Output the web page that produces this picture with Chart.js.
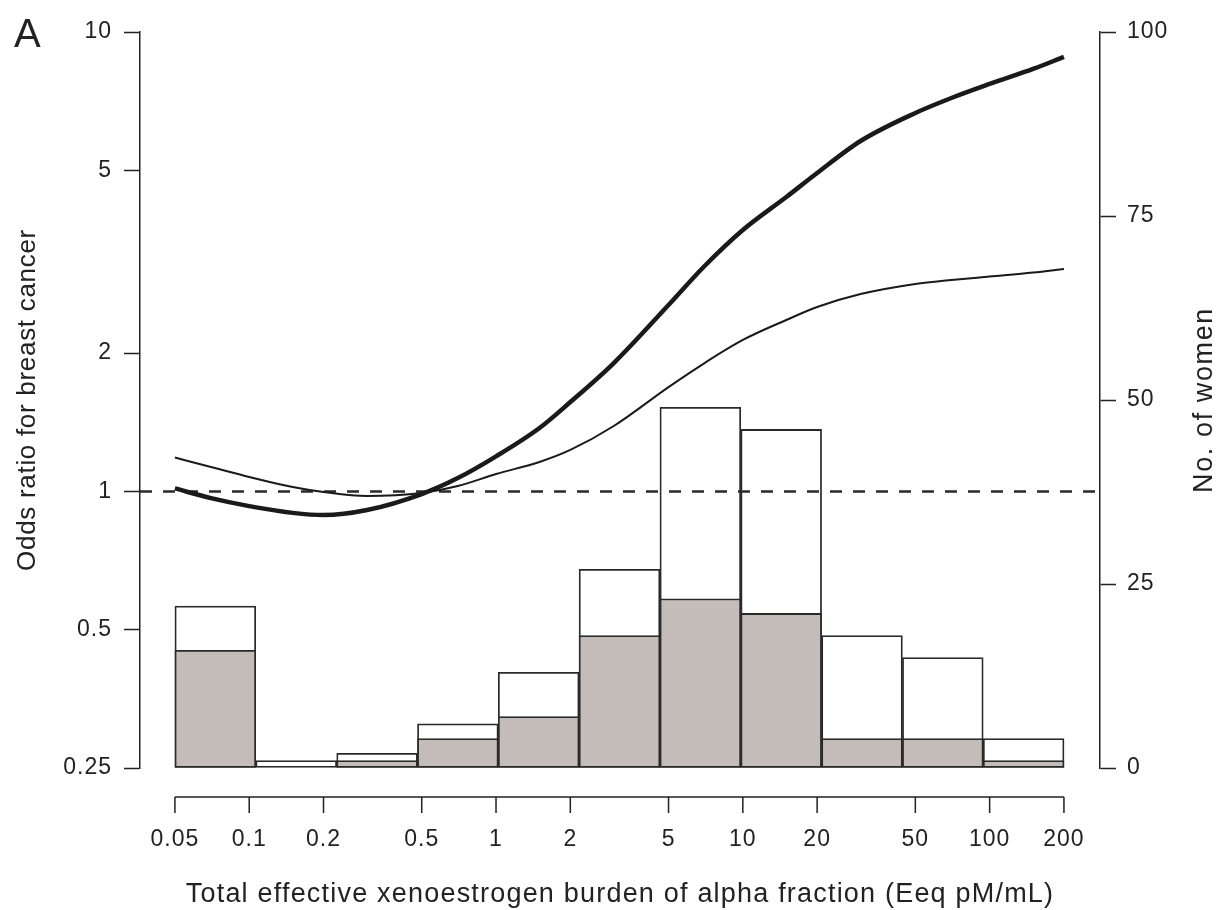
<!DOCTYPE html>
<html>
<head>
  <meta charset="UTF-8">
  <title>Xenoestrogen burden and breast cancer</title>
  <script src="https://cdn.jsdelivr.net/npm/chart.js@4"></script>
  <style>
    * { margin: 0; padding: 0; box-sizing: border-box; }
    body { background: #fff; }
    #wrap { width: 1223px; height: 910px; }
  </style>
</head>
<body>
  <div id="wrap"><canvas id="orChart" width="1223" height="910"></canvas></div>

  <script>
    // --- Data ---
    const xTicks = [0.05, 0.1, 0.2, 0.5, 1, 2, 5, 10, 20, 50, 100, 200];
    const orTicks = [0.25, 0.5, 1, 2, 5, 10];
    const countTicks = [0, 25, 50, 75, 100];

    // histogram bins (geometric mid-points, equal width on log axis)
    const binMids = [0.0729, 0.155, 0.33, 0.7, 1.489, 3.164, 6.73, 14.3, 30.4, 64.6, 137.3];
    const allWomen = [22, 1, 2, 6, 13, 27, 49, 46, 18, 15, 4];
    const cases    = [16, 0, 1, 4, 7, 18, 23, 21, 4, 4, 1];

    // spline fits, odds ratio vs. burden
    const curveX = [0.05, 0.07, 0.1, 0.15, 0.2, 0.3, 0.5, 0.7, 1, 1.5, 2, 3, 5, 7, 10, 15, 20, 30, 50, 70, 100, 150, 200];
    const orBold = [1.015, 0.967, 0.929, 0.898, 0.888, 0.911, 0.987, 1.069, 1.192, 1.374, 1.565, 1.903, 2.546, 3.095, 3.707, 4.373, 4.933, 5.791, 6.664, 7.184, 7.706, 8.309, 8.824];
    const orThin = [1.185, 1.13, 1.075, 1.022, 0.997, 0.977, 0.992, 1.027, 1.091, 1.159, 1.231, 1.388, 1.687, 1.903, 2.136, 2.361, 2.52, 2.689, 2.828, 2.885, 2.936, 2.995, 3.049];

    // x range of the plot region (wider than the drawn axis)
    const xMin = 0.0361, xMax = 280;

    const INK = '#222';
    const FONT = '"Liberation Sans", Arial, Helvetica, sans-serif';
    Chart.defaults.font.family = FONT;
    Chart.defaults.color = INK;

    const pts = (xs, ys) => xs.map((x, i) => ({ x, y: ys[i] }));

    function label(ctx, text, x, y, size, spacing, angle) {
      ctx.save();
      ctx.translate(x, y);
      ctx.rotate(angle);
      ctx.font = size + 'px ' + FONT;
      ctx.letterSpacing = spacing + 'px';
      ctx.textAlign = 'center';
      ctx.textBaseline = 'alphabetic';
      ctx.fillText(text, 0, 0);
      ctx.restore();
    }

    // R-style detached x axis, panel letter and axis titles
    const extras = {
      id: 'extras',
      beforeDraw(chart) {
        // slightly looser tick labels
        chart.ctx.letterSpacing = '1px';
      },
      afterDraw(chart) {
        const { ctx, chartArea, scales: { x } } = chart;
        ctx.letterSpacing = '0px';
        const y0 = chartArea.bottom + 29;
        const px = xTicks.map(v => x.getPixelForValue(v));
        ctx.save();
        ctx.strokeStyle = INK;
        ctx.lineWidth = 1.5;
        ctx.beginPath();
        ctx.moveTo(px[0], y0);
        ctx.lineTo(px[px.length - 1], y0);
        px.forEach(p => { ctx.moveTo(p, y0); ctx.lineTo(p, y0 + 16); });
        ctx.stroke();

        ctx.fillStyle = INK;
        ctx.font = '40px ' + FONT;
        ctx.fillText('A', 14, 47);

        const midY = (chartArea.top + chartArea.bottom) / 2;
        label(ctx, 'Total effective xenoestrogen burden of alpha fraction (Eeq pM/mL)', 620, 902, 27, 1.2, 0);
        label(ctx, 'Odds ratio for breast cancer', 35, midY, 26, 0.7, -Math.PI / 2);
        label(ctx, 'No. of women', 1212, midY, 27, 1.6, -Math.PI / 2);
        ctx.restore();
      }
    };

    const yAxisCommon = {
      stacked: false,
      border: { display: true, color: INK, width: 1.5 },
      grid: { drawOnChartArea: false, drawTicks: true, tickLength: 16, tickWidth: 1.5, tickColor: INK },
    };

    new Chart(document.getElementById('orChart'), {
      type: 'bar',
      data: {
        datasets: [
          {
            type: 'line', label: 'OR (bold)', data: pts(curveX, orBold), yAxisID: 'y',
            borderColor: '#1a1a1a', borderWidth: 4.5, pointRadius: 0,
            cubicInterpolationMode: 'monotone', order: 0,
          },
          {
            type: 'line', label: 'OR', data: pts(curveX, orThin), yAxisID: 'y',
            borderColor: '#1a1a1a', borderWidth: 2, pointRadius: 0,
            cubicInterpolationMode: 'monotone', order: 0,
          },
          {
            type: 'line', label: 'reference', data: [{ x: xMin, y: 1 }, { x: xMax, y: 1 }], yAxisID: 'y',
            borderColor: '#2a2a2a', borderWidth: 2.5, borderDash: [12, 11], pointRadius: 0, order: 1,
          },
          // both bar sets share one slot, cases drawn over all women
          {
            label: 'Cases', data: pts(binMids, cases), yAxisID: 'y2', stack: 'hist',
            backgroundColor: '#c4bcb9', borderColor: '#2a2a2a', borderWidth: 1.8,
            borderSkipped: false, order: 2,
          },
          {
            label: 'All women', data: pts(binMids, allWomen), yAxisID: 'y2', stack: 'hist',
            backgroundColor: '#ffffff', borderColor: '#2a2a2a', borderWidth: 1.8,
            borderSkipped: false, order: 3,
          },
        ]
      },
      options: {
        responsive: false,
        animation: false,
        layout: { padding: { top: 32, left: 0, right: 0, bottom: 0 } },
        // flex: each bar spans half-way to its neighbours, i.e. the bin edges
        datasets: { bar: { barThickness: 'flex', categoryPercentage: 1, barPercentage: 1 } },
        plugins: { legend: { display: false }, tooltip: { enabled: false } },
        scales: {
          x: {
            type: 'logarithmic',
            min: xMin,
            max: xMax,
            offset: false,
            stacked: true,
            border: { display: false },
            grid: { display: false, drawTicks: false },
            afterBuildTicks: s => { s.ticks = xTicks.map(v => ({ value: v })); },
            afterFit: s => { s.height = 142; },
            ticks: {
              autoSkip: false, maxRotation: 0, padding: 58,
              font: { size: 23 }, color: INK,
              callback: v => String(v),
            },
          },
          y: {
            type: 'logarithmic',
            position: 'left',
            min: 0.25,
            max: 10,
            ...yAxisCommon,
            afterBuildTicks: s => { s.ticks = orTicks.map(v => ({ value: v })); },
            afterFit: s => { s.width = 140; },
            ticks: { padding: 12, font: { size: 23 }, color: INK, callback: v => String(v) },
          },
          y2: {
            type: 'linear',
            position: 'right',
            min: 0,
            max: 100,
            ...yAxisCommon,
            afterBuildTicks: s => { s.ticks = countTicks.map(v => ({ value: v })); },
            afterFit: s => { s.width = 123; },
            ticks: { padding: 11, font: { size: 23 }, color: INK },
          },
        }
      },
      plugins: [extras]
    });
  </script>
</body>
</html>
